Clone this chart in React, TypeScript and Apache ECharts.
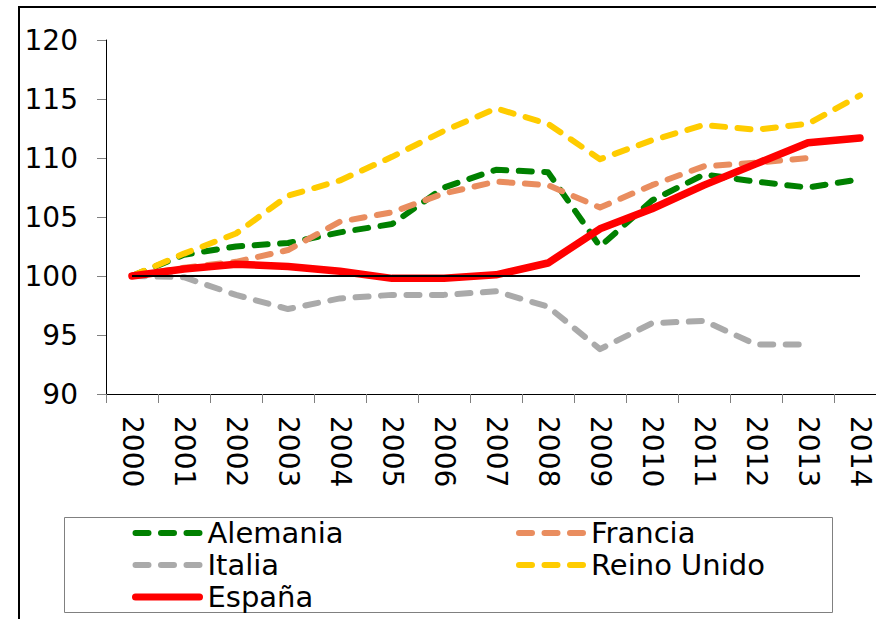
import React, { useEffect, useRef } from "react";
import * as echarts from "echarts";

const years = ["2000","2001","2002","2003","2004","2005","2006","2007","2008","2009","2010","2011","2012","2013","2014"];
const alemania = [100, 101.8, 102.5, 102.8, 103.7, 104.4, 107.5, 109.0, 108.8, 102.5, 106.4, 108.6, 108.0, 107.5, 108.2];
const francia = [100, 100.7, 101.2, 102.2, 104.6, 105.4, 107.0, 108.0, 107.7, 105.8, 107.7, 109.3, 109.6, 110.0, null];
const italia = [100, 99.9, 98.4, 97.2, 98.1, 98.4, 98.4, 98.7, 97.4, 93.8, 96.0, 96.2, 94.2, 94.2, null];
const reinoUnido = [100, 101.9, 103.6, 106.8, 108.1, 110.1, 112.3, 114.2, 112.9, 109.9, 111.5, 112.8, 112.4, 112.9, 115.3];
const espana = [100, 100.6, 101.0, 100.8, 100.4, 99.8, 99.8, 100.1, 101.1, 104.0, 105.7, 107.7, 109.5, 111.3, 111.7];
const base = years.map(() => 100);
const yTicks = { min: 90, max: 120, step: 5 };

const FONT = "DejaVu Sans";
const DASH = [13, 12.5];
const COLORS: Record<string, string> = {
  Alemania: "#008000",
  Francia: "#E98D5F",
  Italia: "#AAAAAA",
  "Reino Unido": "#FFCC00",
  "España": "#FF0000",
};

function dashed(name: string, data: (number | null)[]) {
  const color = COLORS[name];
  return {
    name,
    type: "line",
    data,
    symbol: "none",
    connectNulls: false,
    lineStyle: { color, width: 6, type: DASH, cap: "round", join: "round" },
    itemStyle: { color },
  };
}

function legendItem(name: string) {
  const solid = name === "España";
  return {
    name,
    itemStyle: { opacity: 0 },
    lineStyle: solid
      ? { color: COLORS[name], width: 7, type: "solid", cap: "round" }
      : { color: COLORS[name], width: 6, type: DASH, cap: "round" },
  };
}

export default function App() {
  const ref = useRef<HTMLDivElement>(null);
  useEffect(() => {
    document.body.style.margin = "0";
    const chart = echarts.init(ref.current!, null, { renderer: "svg" });
    const legendText = { fontFamily: FONT, fontSize: 29, color: "#000", lineHeight: 32, padding: [0, 0, 0, 3] };
    const legendBase = {
      orient: "vertical",
      top: 517,
      padding: 0,
      itemWidth: 64,
      itemHeight: 14,
      itemGap: 0,
      textStyle: legendText,
      selectedMode: false,
    };
    chart.setOption({
      animation: false,
      backgroundColor: "#fff",
      grid: { left: 106, top: 40, width: 780, height: 354, containLabel: false, outerBoundsMode: "none" },
      xAxis: {
        type: "category",
        data: years,
        boundaryGap: true,
        axisLine: { show: true, lineStyle: { color: "#000", width: 1 } },
        axisTick: { show: true, length: 9, lineStyle: { color: "#808080" } },
        axisLabel: { rotate: -90, margin: 22, fontFamily: FONT, fontSize: 28, color: "#000", interval: 0 },
        splitLine: { show: false },
      },
      yAxis: {
        type: "value",
        min: yTicks.min,
        max: yTicks.max,
        interval: yTicks.step,
        axisLine: { show: true, lineStyle: { color: "#000", width: 1 } },
        axisTick: { show: true, length: 9, lineStyle: { color: "#808080" } },
        axisLabel: { margin: 28, fontFamily: FONT, fontSize: 28, color: "#000" },
        splitLine: { show: false },
      },
      legend: [
        { ...legendBase, left: 132, data: ["Alemania", "Italia", "España"].map(legendItem) },
        { ...legendBase, left: 516, data: ["Francia", "Reino Unido"].map(legendItem) },
      ],
      graphic: [
        { type: "rect", shape: { x: 19, y: 7, width: 900, height: 700 }, style: { fill: "none", stroke: "#000", lineWidth: 2 }, silent: true },
        { type: "rect", shape: { x: 64.5, y: 517.5, width: 768, height: 95 }, style: { fill: "none", stroke: "#808080", lineWidth: 1 }, silent: true },
      ],
      series: [
        dashed("Alemania", alemania),
        dashed("Francia", francia),
        dashed("Italia", italia),
        dashed("Reino Unido", reinoUnido),
        {
          name: "España",
          type: "line",
          data: espana,
          symbol: "none",
          lineStyle: { color: COLORS["España"], width: 7.5, cap: "round", join: "round" },
          itemStyle: { color: COLORS["España"] },
        },
        {
          name: "base",
          type: "line",
          data: base,
          symbol: "none",
          lineStyle: { color: "#000", width: 2 },
          itemStyle: { color: "#000" },
          silent: true,
        },
      ],
    });
    return () => chart.dispose();
  }, []);
  return <div ref={ref} style={{ width: 876, height: 619 }} />;
}
